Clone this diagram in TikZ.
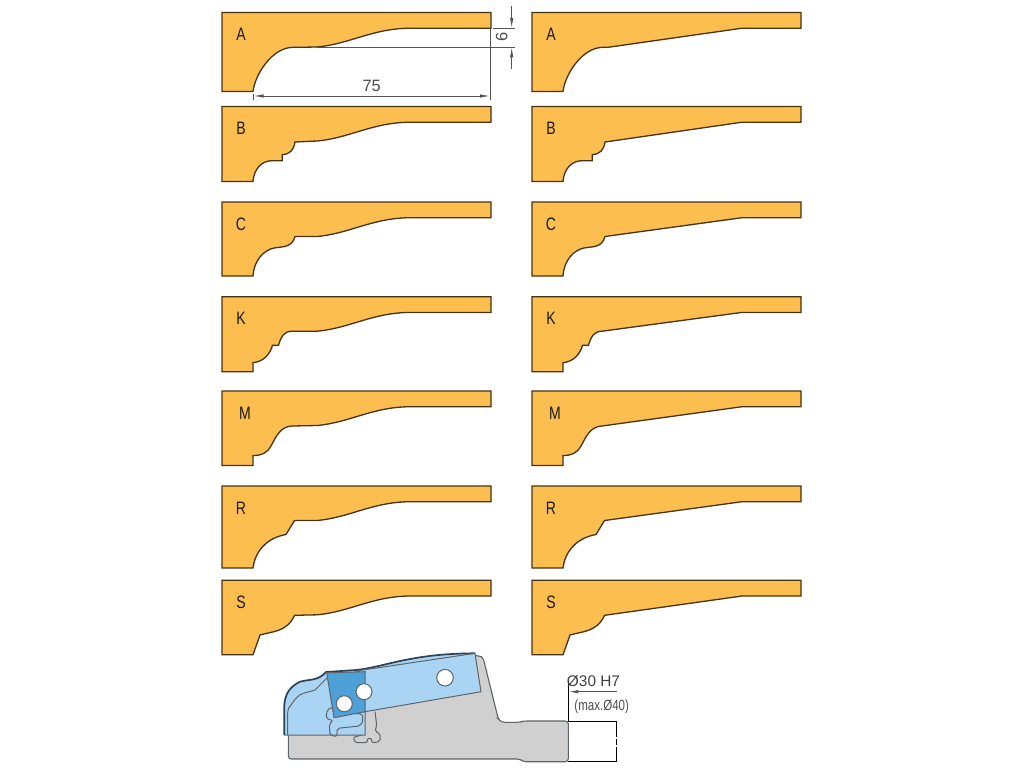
\documentclass[tikz,border=0pt]{standalone}
\usepackage{fontspec}
\setmainfont{Liberation Sans}
\usetikzlibrary{arrows.meta}

\definecolor{bladefill}{RGB}{253,190,80}
\definecolor{bladeline}{RGB}{70,50,20}
\definecolor{dimline}{RGB}{85,85,85}
\definecolor{bodyfill}{RGB}{208,208,208}
\definecolor{bodyline}{RGB}{95,100,105}
\definecolor{knifelight}{RGB}{170,212,243}
\definecolor{knifedark}{RGB}{78,160,217}
\definecolor{knifeline}{RGB}{45,65,85}

\tikzset{
	profile/.style={draw=bladeline, fill=bladefill, line width=.65pt, line join=miter},
	tagtext/.style={font=\fontsize{9pt}{9pt}\selectfont, text=black!90, xscale=.78, transform shape, inner sep=0pt},
	dim/.style={draw=dimline, line width=.4pt},
	dimarrow/.style={dim, -{Latex[length=5pt,width=1.7pt]}},
	dimtext/.style={font=\fontsize{8.2pt}{8.2pt}\selectfont, text=black!70, inner sep=0pt},
	hole/.style={circle, draw=bodyline, fill=white, line width=.5pt, inner sep=0pt},
	slot/.style={draw=bodyline, line width=.5pt, rounded corners=1pt},
}

% heads of the profiles, local coordinates (left edge, top edge)
\newcommand{\headA}{(0,79) -- (31,79) .. controls (33,62) and (50,35) .. (71,34.8) -- (76,34.8)}
\newcommand{\headB}{(0,75) -- (31,75) .. controls (32,62) and (40,54.2) .. (50,54.2) -- (60.3,54.2) -- (60.3,48) .. controls (68,48) and (72,43) .. (73,35.5)}
\newcommand{\headC}{(0,74) -- (31,74) .. controls (32,58) and (42,48) .. (52,46) .. controls (60,44.5) and (70,46) .. (73,34.5)}
\newcommand{\headK}{(0,75) -- (31,75) -- (31,66) .. controls (41,65) and (48,58) .. (50.5,48.5) -- (56.5,48.5) .. controls (59,40) and (62,34.5) .. (70,34.5)}
\newcommand{\headM}{(0,74.5) -- (31,74.5) -- (31,64.5) .. controls (40,64.5) and (45,62) .. (49,55) .. controls (54,46) and (58,35.5) .. (70,35)}
\newcommand{\headR}{(0,82) -- (31,82) .. controls (33,66) and (44,52) .. (64,48.5) -- (72.5,34.5)}
\newcommand{\headS}{(0,74.5) -- (31,74.5) -- (38,54.7) .. controls (50,51) and (65,52) .. (72.5,35)}
% tails: curved in the left column, straight in the right one
\newcommand{\tailCurve}{-- (95,34.5) .. controls (128,31.5) and (150,16) .. (188,15.7)}
\newcommand{\tailLine}{-- (210,15.7)}

\begin{document}
\begin{tikzpicture}[x=.5pt, y=-.5pt]
	\useasboundingbox (0,0) rectangle (1024,768);
	
	% Profiles, two columns
	\foreach \colx/\tailpath in {222/\tailCurve, 532/\tailLine} {
		\foreach \tag/\rowtop/\headpath/\tagx in {A/12.5/\headA/19, B/106.5/\headB/19, C/202/\headC/19, K/296.7/\headK/19, M/391/\headM/23, R/486/\headR/19, S/580.3/\headS/19} {
			\begin{scope}[shift={(\colx,\rowtop)}]
				\draw[profile] \headpath \tailpath -- (269,15.7) -- (269,0) -- (0,0) -- cycle;
				\node[tagtext] (tag\tag\colx) at (\tagx,22) {\tag};
			\end{scope}
		}
	}
	
	% Dimensions of the first profile
	\coordinate (endtop) at (490.5,28.3);
	\coordinate (endlow) at (490.5,100);
	\coordinate (exttop) at (515,28.3);
	\coordinate (extstart) at (493,28.3);
	\coordinate (steplow) at (316,47);
	\coordinate (extlow) at (515,47);
	\coordinate (vtop) at (511.7,6);
	\coordinate (vtopend) at (511.7,28);
	\coordinate (vlow) at (511.7,69);
	\coordinate (vlowend) at (511.7,47.3);
	\coordinate (hleft) at (253.5,96);
	\coordinate (hright) at (490,96);
	\coordinate (ticktop) at (253.3,94);
	\coordinate (ticklow) at (253.3,100);
	\draw[dim] (endtop) -- (endlow);
	\draw[dim] (extstart) -- (exttop);
	\draw[dim] (steplow) -- (extlow);
	\draw[dimarrow] (vtop) -- (vtopend);
	\draw[dimarrow] (vlow) -- (vlowend);
	\draw[dim, {Latex[length=5pt,width=1.7pt]}-{Latex[length=5pt,width=1.7pt]}] (hleft) -- (hright);
	\draw[dim] (ticktop) -- (ticklow);
	\node[dimtext] (dimsix) at (501.7,36.7) [rotate=90] {6};
	\node[dimtext] (dimlen) at (371.7,85.7) {75};
	
	% Tool body
	\draw[fill=bodyfill, draw=bodyline, line width=.55pt, rounded corners=1.5pt]
		(288.3,730) -- (288.3,759) -- (520,759) -- (523.3,761.7) -- (568.3,761.7) -- (568.3,721)
		-- (523.3,721) -- (520,722.3) -- (501.7,722.3) -- (498.3,719) -- (483.3,658.3)
		-- (480,655.7) -- (465,655.7) -- (400,700) -- cycle;
	
	% Knife, light part
	\fill[knifelight] (284.3,735) -- (284.3,705) .. controls (285,695) and (289,687) .. (300,681.7)
		.. controls (310,679) and (318,681) .. (326,672) -- (356,670)
		.. controls (385,667) and (410,653.5) .. (475,653.3)
		-- (481,691.7) -- (365,711.7) -- (365,735) -- cycle;
	\fill[knifedark] (326.7,672.7) -- (365,671.7) -- (365,711.7) -- (334,717.7) -- cycle;
	
	% Knife, outlines
	\draw[knifeline, line width=.85pt] (284.3,735) -- (284.3,705) .. controls (285,695) and (289,687) .. (300,681.7)
		.. controls (310,679) and (318,681) .. (326,672) -- (356,670)
		.. controls (385,667) and (410,653.5) .. (475,653.3);
	\draw[bodyline, line width=.5pt] (284.3,735) -- (365,735) -- (365,671.7) -- (326.7,672.7) -- (334,717.7) -- (365,711.7) -- (481,691.7) -- (475,653.3) -- (356,671);
	\draw[bodyline, line width=.5pt] (287.7,735) -- (287.7,713.3) .. controls (288,708) and (289,707) .. (291,705)
		.. controls (295,699) and (298,695) .. (303.3,693.3) -- (315,690) -- (320,685) -- (326.7,678.3);
	
	% Slots
	\draw[slot] (333.3,707.3) -- (327.3,709.3) -- (326,718.3) -- (333,720.7) -- (329.3,724) -- (330,735)
		-- (336.7,736.7) -- (337.3,728.3) -- (360,726) -- (363.3,720) -- (361.7,713.3) -- (356.7,714);
	\draw[slot] (375,711.7) -- (376.7,725) -- (375,731.7) -- (380,733.3) -- (380,741.7) -- (371.7,742.7)
		-- (371.7,738.3) -- (367.3,738.3) -- (367.3,742.7) -- (355,742.7) -- (353.3,737.3) -- (361.7,735);
	
	% Holes
	\node[hole, minimum size=8.3pt] (holeright) at (445,677.7) {};
	\node[hole, minimum size=8pt] (holemid) at (364,691.7) {};
	\node[hole, minimum size=8pt] (holeleft) at (344.3,703.7) {};
	
	% Bore
	\coordinate (boretop) at (568,678);
	\coordinate (borecorner) at (568,721);
	\coordinate (borelow) at (568,761.7);
	\coordinate (boreright) at (616.7,721);
	\coordinate (borerightlow) at (616.7,761.7);
	\coordinate (leaderright) at (616.7,691.7);
	\coordinate (leaderleft) at (568.3,691.7);
	\draw[black, line width=.45pt] (boretop) -- (borecorner);
	\draw[black, line width=.45pt] (borecorner) -- (boreright);
	\draw[black, line width=.45pt] (borelow) -- (borerightlow);
	\draw[black, line width=.45pt, dash pattern=on 8pt off 1pt on 3pt off 1pt] (boreright) -- (borerightlow);
	\draw[dimarrow, line width=.45pt] (leaderright) -- (leaderleft);
	\node[font=\fontsize{7.7pt}{7.7pt}\selectfont, text=black!75, inner sep=0pt] (boresize) at (593.5,681.5) {Ø30 H7};
	\node[font=\fontsize{7.4pt}{7.4pt}\selectfont, text=black!70, xscale=.78, transform shape, inner sep=0pt] (boremax) at (601.7,707) {(max.Ø40)};
	
\end{tikzpicture}
\end{document}
